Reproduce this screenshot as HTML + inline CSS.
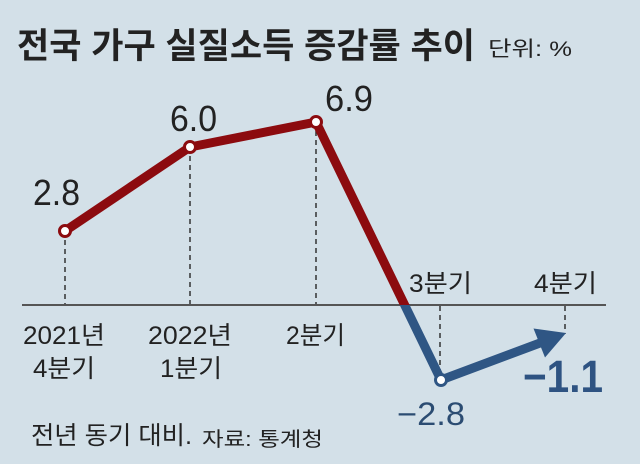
<!DOCTYPE html>
<html>
<head>
<meta charset="utf-8">
<style>
  html, body { margin: 0; padding: 0; background: #d3e0e8; }
  svg { display: block; }
  text { font-family: "Liberation Sans", "Noto Sans CJK KR", sans-serif; }
</style>
</head>
<body>
<svg width="640" height="464" viewBox="0 0 640 464" xmlns="http://www.w3.org/2000/svg">
  <defs>
    <clipPath id="above"><rect x="0" y="0" width="640" height="305"/></clipPath>
    <clipPath id="below"><rect x="0" y="305" width="640" height="159"/></clipPath>
  </defs>
  <rect x="0" y="0" width="640" height="464" fill="#d3e0e8"/>

  <!-- Title -->
  <text x="17" y="58" font-size="35" font-weight="bold" fill="#222" textLength="458" lengthAdjust="spacingAndGlyphs">전국 가구 실질소득 증감률 추이</text>
  <text x="488" y="56" font-size="21" fill="#222" textLength="84" lengthAdjust="spacingAndGlyphs">단위: %</text>

  <!-- dashed guides -->
  <g stroke="#333" stroke-width="1.5" stroke-dasharray="5 4" fill="none">
    <line x1="65" y1="240" x2="65" y2="305"/>
    <line x1="190" y1="156" x2="190" y2="305"/>
    <line x1="316" y1="131" x2="316" y2="305"/>
    <line x1="440" y1="306" x2="440" y2="372"/>
    <line x1="565" y1="306" x2="565" y2="334"/>
  </g>

  <!-- axis -->
  <line x1="22" y1="305" x2="606" y2="305" stroke="#555" stroke-width="2"/>

  <!-- red series -->
  <polyline clip-path="url(#above)" points="65,231 190,147 316,122 441,380" fill="none" stroke="#8c0b0f" stroke-width="9" stroke-linejoin="round"/>
  <!-- blue series -->
  <polyline clip-path="url(#below)" points="316,122 441,380 540,343" fill="none" stroke="#2f5684" stroke-width="9" stroke-linejoin="round"/>
  <polygon points="566,333 533.5,328.5 545,357.5" fill="#2f5684"/>

  <!-- markers -->
  <g fill="#fff" stroke-width="3">
    <circle cx="65" cy="231" r="5.5" stroke="#8c0b0f"/>
    <circle cx="190" cy="147" r="5.5" stroke="#8c0b0f"/>
    <circle cx="316" cy="122" r="5.5" stroke="#8c0b0f"/>
    <circle cx="441" cy="380" r="5.5" stroke="#2f5684"/>
  </g>

  <!-- value labels -->
  <g font-size="36" fill="#222">
    <text x="33" y="205" textLength="47" lengthAdjust="spacingAndGlyphs">2.8</text>
    <text x="170" y="131" textLength="47" lengthAdjust="spacingAndGlyphs">6.0</text>
    <text x="325" y="111" textLength="48" lengthAdjust="spacingAndGlyphs">6.9</text>
  </g>
  <text x="397" y="425" font-size="32" fill="#2b4c72" textLength="68" lengthAdjust="spacingAndGlyphs">−2.8</text>
  <text x="523" y="392" font-size="45" font-weight="bold" fill="#2e5382" textLength="80" lengthAdjust="spacingAndGlyphs">−1.1</text>

  <!-- category labels -->
  <g font-size="25" fill="#222">
    <text x="409" y="292" textLength="63" lengthAdjust="spacingAndGlyphs">3분기</text>
    <text x="534" y="292" textLength="63" lengthAdjust="spacingAndGlyphs">4분기</text>
    <text x="23" y="344" textLength="82" lengthAdjust="spacingAndGlyphs">2021년</text>
    <text x="33" y="377" textLength="62" lengthAdjust="spacingAndGlyphs">4분기</text>
    <text x="148" y="344" textLength="84" lengthAdjust="spacingAndGlyphs">2022년</text>
    <text x="160" y="377" textLength="62" lengthAdjust="spacingAndGlyphs">1분기</text>
    <text x="286" y="344" textLength="59" lengthAdjust="spacingAndGlyphs">2분기</text>
  </g>

  <!-- footer -->
  <text x="31" y="444" font-size="25" fill="#222" textLength="161" lengthAdjust="spacingAndGlyphs">전년 동기 대비.</text>
  <text x="202" y="446" font-size="20" fill="#222" textLength="121" lengthAdjust="spacingAndGlyphs">자료: 통계청</text>
</svg>
</body>
</html>
